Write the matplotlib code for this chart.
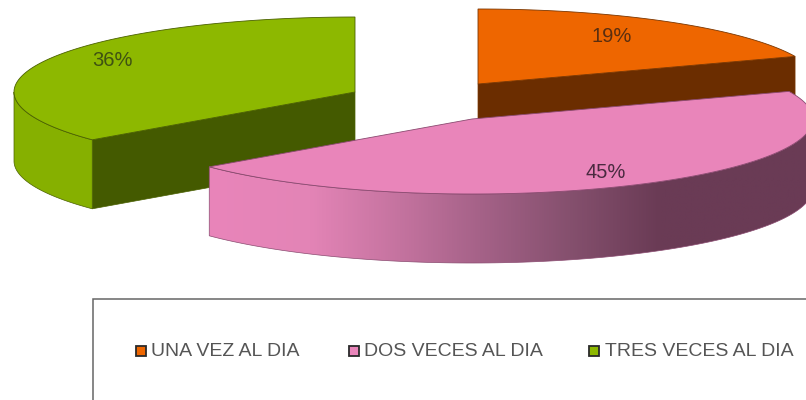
import matplotlib
matplotlib.use('Agg')
import matplotlib.pyplot as plt
from matplotlib.colors import LinearSegmentedColormap
from matplotlib.patches import Polygon, Rectangle
import numpy as np

categories = ['UNA VEZ AL DIA', 'DOS VECES AL DIA', 'TRES VECES AL DIA']
values = [19, 45, 36]
value_labels = ['19%', '45%', '36%']

top_colors = ['#EE6600', '#E985BA', '#8DB800']
side_colors = ['#6B2D00', '#6A3B55', '#445A00']
edge_colors = ['#7A3600', '#8A4A70', '#4A6000']
label_colors = ['#5A2E10', '#4A2A40', '#3F5212']

# pie geometry in pixels, one apex per exploded slice
RX = 341
RY = 75
DEPTH = 69
apexes = [(478, 84), (472, 119), (355, 92)]
label_pos = [(612, 36), (606, 172), (112, 61)]
legend_x = [136, 349, 589]
legend_text_x = [151, 364, 605]


def arc(apex, start, end, n=120):
    t = np.radians(np.linspace(start, end, n))
    return np.column_stack([apex[0] + RX * np.sin(t), apex[1] - RY * np.cos(t)])


fig = plt.figure(figsize=(8.06, 4.0), dpi=100)
ax = fig.add_axes([0, 0, 1, 1])
ax.set_xlim(0, 806)
ax.set_ylim(400, 0)
ax.axis('off')
plt.rcParams['font.family'] = ['Liberation Sans', 'DejaVu Sans']

bounds = np.cumsum([0] + values) * 3.6
slices = [(i, bounds[i], bounds[i + 1]) for i in range(3)]
drop = np.array([0, DEPTH])

# back slices first, the pink one sits in front of both
for i, start, end in [slices[2], slices[0], slices[1]]:
    apex = apexes[i]
    rim = arc(apex, start, end)
    zorder = 2 if i != 1 else 4

    # straight cut face that looks to the viewer
    if i == 0:
        p = rim[-1]
    elif i == 2:
        p = rim[0]
    else:
        p = None
    if p is not None:
        face = np.array([apex, p, p + drop, np.array(apex) + drop])
        ax.add_patch(Polygon(face, closed=True, fc=side_colors[i], ec=edge_colors[i],
                             lw=0.5, zorder=zorder))

    # outer wall, only the part of the rim facing down
    lo = max(start, 90)
    hi = min(end, 270)
    if lo < hi:
        wall = arc(apex, lo, hi)
        wall_poly = np.vstack([wall, wall[::-1] + drop])
        if i == 1:
            patch = Polygon(wall_poly, closed=True, fc='none', ec=edge_colors[i],
                            lw=0.5, zorder=zorder + 0.2)
            ax.add_patch(patch)
            stops = [(208, '#E985BA'), (310, '#E384B6'), (400, '#C4739F'), (480, '#A56288'),
                     (570, '#85506E'), (660, '#6A3B55'), (814, '#6A3B55')]
            x0 = stops[0][0]
            x1 = stops[-1][0]
            cmap = LinearSegmentedColormap.from_list(
                'wall', [((x - x0) / (x1 - x0), c) for x, c in stops])
            im = ax.imshow(np.linspace(0, 1, 512).reshape(1, -1), cmap=cmap, aspect='auto',
                           extent=[x0, x1, 270, 90], zorder=zorder)
            im.set_clip_path(Polygon(wall_poly, closed=True, transform=ax.transData))
        else:
            ax.add_patch(Polygon(wall_poly, closed=True, fc='#86B000', ec=edge_colors[i],
                                 lw=0.5, zorder=zorder))

    # top surface
    top = np.vstack([[apex], rim])
    ax.add_patch(Polygon(top, closed=True, fc=top_colors[i], ec=edge_colors[i],
                         lw=0.6, zorder=zorder + 0.5))

ax.set_xlim(0, 806)
ax.set_ylim(400, 0)

for i in range(3):
    ax.text(label_pos[i][0], label_pos[i][1], value_labels[i], fontsize=14.5,
            color=label_colors[i], ha='center', va='center', zorder=6)

# legend frame runs off the right and bottom of the figure
ax.add_patch(Rectangle((92.5, 299), 740, 140, fc='white', ec='#666666', lw=1.1, zorder=1))
for i in range(3):
    ax.add_patch(Rectangle((legend_x[i], 346), 10, 10, fc=top_colors[i], ec='#2A2A2A',
                           lw=1.3, zorder=3))
    ax.text(legend_text_x[i], 351.5, categories[i], fontsize=14, color='#555555',
            ha='left', va='center', zorder=3)

fig.savefig('out.png', dpi=100)
plt.close()
